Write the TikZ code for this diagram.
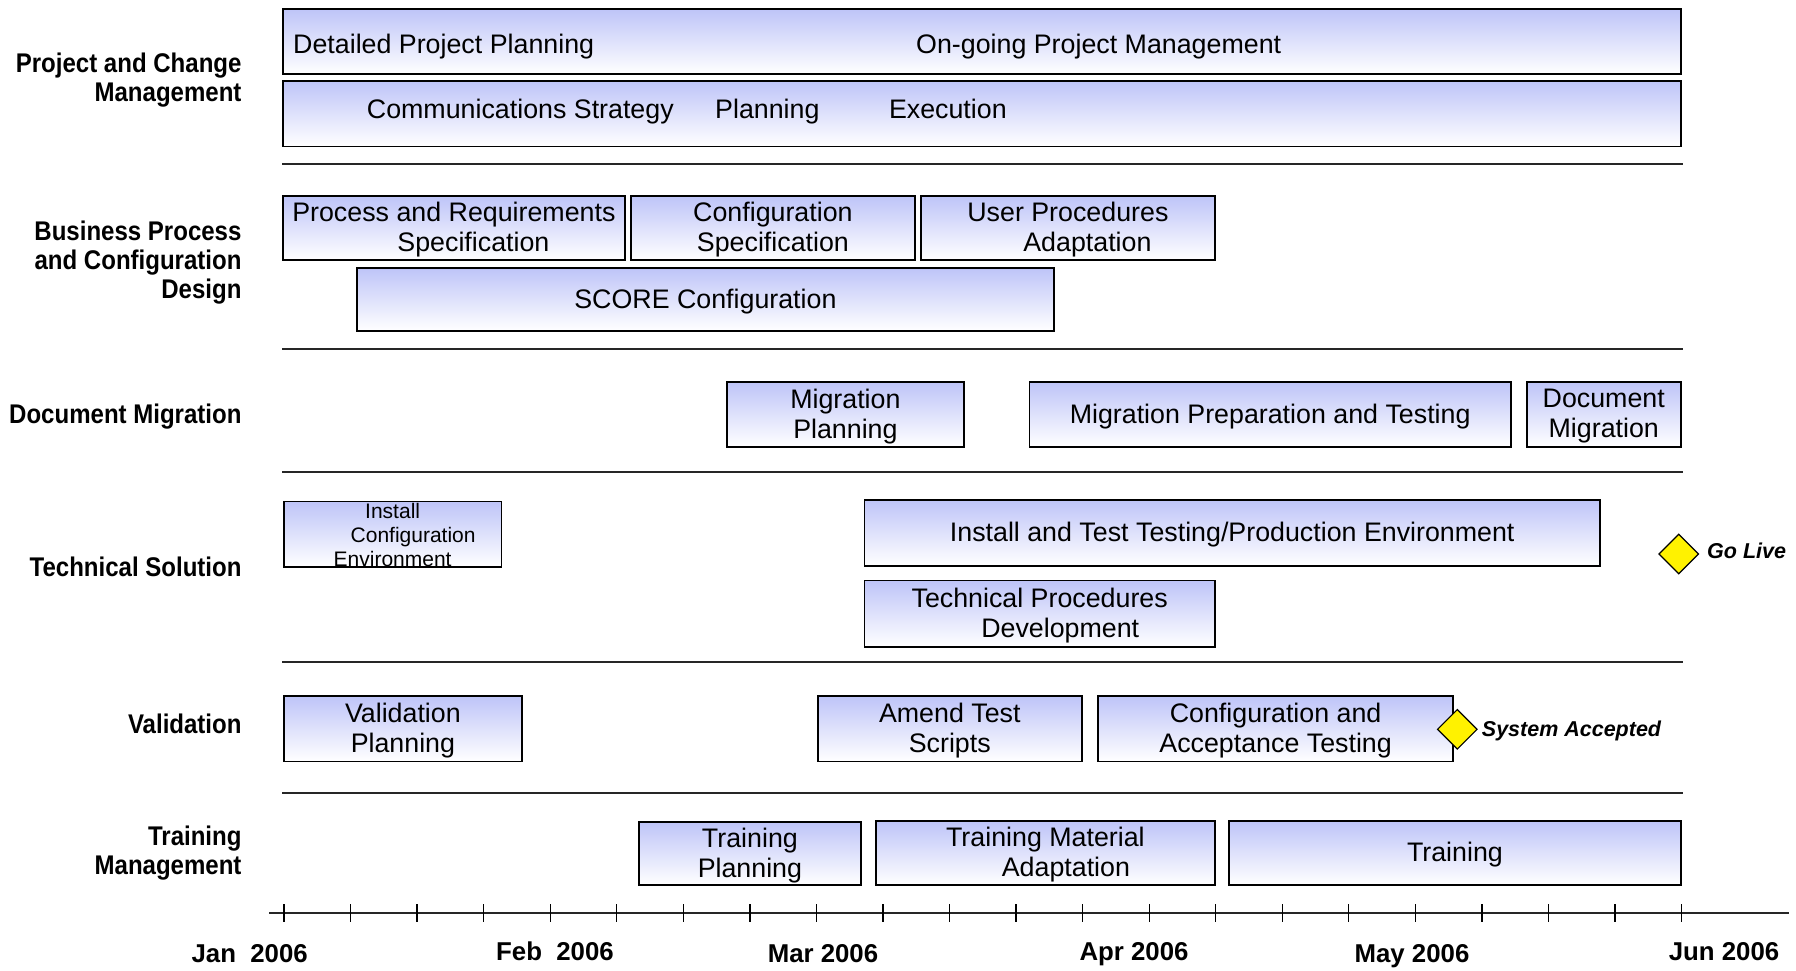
\documentclass[tikz,border=0pt]{standalone}
\usepackage{fontspec}
\setmainfont{Liberation Sans}
\newfontfamily\lblfont{Liberation Sans}[FakeStretch=0.89]
\usetikzlibrary{shapes.geometric}
\definecolor{barTop}{RGB}{190,196,248}
\tikzset{
  gbar/.style={draw=black, line width=1.8pt, top color=barTop, bottom color=white,
    inner sep=0pt, anchor=north west},
  boxtext/.style={inner sep=0pt, align=center, font=\fontsize{26.8}{30}\selectfont},
  smalltext/.style={inner sep=0pt, align=center, font=\fontsize{21}{24}\selectfont},
  btext/.style={inner sep=0pt, anchor=base west, font=\fontsize{26.8}{30}\selectfont},
  rowlabel/.style={inner sep=0pt, anchor=east, align=right,
    font=\lblfont\bfseries\fontsize{27}{28.6}\selectfont},
  rowlabelone/.style={rowlabel, anchor=base east},
  month/.style={inner sep=0pt, anchor=base, font=\bfseries\fontsize{25.8}{28}\selectfont},
  sepline/.style={draw=black!85, line width=1.8pt},
  axisline/.style={draw=black!85, line width=2.4pt},
  tickline/.style={draw=black, line width=1.3pt},
  milestone/.style={diamond, aspect=1, draw=black, line width=1.2pt, fill=yellow,
    minimum width=40pt, minimum height=40pt, inner sep=0pt},
  mstext/.style={inner sep=0pt, anchor=base west,
    font=\bfseries\itshape\fontsize{21.5}{24}\selectfont}
}
\newcommand{\gbox}[6]{\node[gbar, minimum width={(#4-#2)*1pt}, minimum height={(#5-#3)*1pt}] (#1) at (#2,#3) {};
  \node[boxtext] (#1t) at ([yshift=-2pt]#1.center) {#6};}
\newcommand{\gboxs}[6]{\node[gbar, minimum width={(#4-#2)*1pt}, minimum height={(#5-#3)*1pt}] (#1) at (#2,#3) {};
  \node[smalltext] (#1t) at ([yshift=-1pt]#1.center) {#6};}
\newcommand{\gboxe}[5]{\node[gbar, minimum width={(#4-#2)*1pt}, minimum height={(#5-#3)*1pt}] (#1) at (#2,#3) {};}
\begin{document}
\begin{tikzpicture}[x=1pt,y=-1pt]
\useasboundingbox (0,0) rectangle (1796,970);
% row labels
\node[rowlabel] (lpcm) at (241.7,80) {Project and Change\\Management};
\node[rowlabel] (lbp) at (241.7,262.5) {Business Process\\and Configuration\\Design};
\node[rowlabelone] (ldm) at (241.7,423.2) {Document Migration};
\node[rowlabelone] (lts) at (241.7,576.7) {Technical Solution};
\node[rowlabelone] (lval) at (241.7,733.7) {Validation};
\node[rowlabel] (ltm) at (241.7,853) {Training\\Management};
% separators
\draw[sepline] (282,164) -- (1683,164);
\draw[sepline] (282,349) -- (1683,349);
\draw[sepline] (282,472) -- (1683,472);
\draw[sepline] (282,662) -- (1683,662);
\draw[sepline] (282,792.6) -- (1683,792.6);
% project and change management
\gboxe{pm1}{282}{8}{1680}{73}
\gboxe{pm2}{282}{80}{1680}{145.5}
\node[btext] (t1) at (293,53.3) {Detailed Project Planning};
\node[btext] (t2) at (916,53.3) {On-going Project Management};
\node[btext] (t3) at (366.7,118) {Communications Strategy};
\node[btext] (t4) at (715,118) {Planning};
\node[btext] (t5) at (888.8,118) {Execution};
% business process
\gbox{bp1}{282}{195}{624}{259}{Process and Requirements\\\hspace*{39pt}Specification}
\gbox{bp2}{630}{195}{914}{259}{Configuration\\Specification}
\gbox{bp3}{920}{195}{1214}{259}{User Procedures\\\hspace*{39pt}Adaptation}
\gbox{bp4}{356}{267}{1053}{330}{SCORE Configuration}
% document migration
\gbox{dm1}{726}{381}{963}{446}{Migration\\Planning}
\gbox{dm2}{1028.5}{381}{1510}{446}{Migration Preparation and Testing}
\gbox{dm3}{1525.7}{381}{1680}{446}{Document\\Migration}
% technical solution
\gboxs{ts1}{283}{500.5}{500.5}{566}{Install\\\hspace*{41pt}Configuration\\Environment}
\gbox{ts2}{863.6}{499}{1599}{564.7}{Install and Test Testing/Production Environment}
\gbox{ts3}{863.6}{579.6}{1214}{646}{Technical Procedures\\\hspace*{41pt}Development}
% validation
\gbox{v1}{283}{695}{521}{760.5}{Validation\\Planning}
\gbox{v2}{816.7}{695}{1081}{760.5}{Amend Test\\Scripts}
\gbox{v3}{1097}{695}{1452.4}{760.5}{Configuration and\\Acceptance Testing}
% training
\gbox{tr1}{638}{821}{860}{884}{Training\\Planning}
\gbox{tr2}{875}{820}{1214}{884}{Training Material\\\hspace*{41pt}Adaptation}
\gbox{tr3}{1228}{820}{1680}{884}{Training}
% milestones
\node[milestone] (golive) at (1678.7,554) {};
\node[mstext] (golivet) at (1707,558.4) {Go Live};
\node[milestone] (sysacc) at (1457.3,729.3) {};
\node[mstext] (sysacct) at (1481.7,736.7) {System Accepted};
% time axis
\coordinate (axl) at (269,913);
\coordinate (axr) at (1789,913);
\draw[axisline] (axl) -- (axr);
\foreach \i in {0,...,21} {
  \draw[tickline] ({284+\i*66.55},904) -- ++(0,18);
}
\node[month] (mjan) at (249.7,962.5) {Jan\ \ 2006};
\node[month] (mfeb) at (555,960) {Feb\ \ 2006};
\node[month] (mmar) at (823,962.5) {Mar 2006};
\node[month] (mapr) at (1134,960) {Apr 2006};
\node[month] (mmay) at (1412,962.5) {May 2006};
\node[month] (mjun) at (1724,960) {Jun 2006};
\end{tikzpicture}
\end{document}
